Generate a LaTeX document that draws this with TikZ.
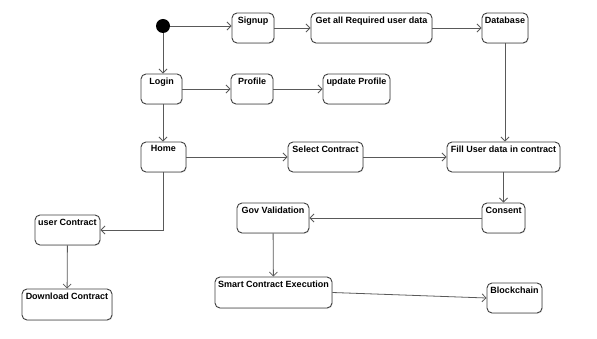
\documentclass[tikz,border=0pt]{standalone}
\usepackage{fontspec}
\setmainfont{Liberation Sans}
\usetikzlibrary{arrows.meta,shadows}
\begin{document}
\begin{tikzpicture}[x=1pt,y=-1pt,
  state/.style={draw=black!75, line width=0.9pt, rounded corners=5pt, fill=white, inner sep=0pt,
    drop shadow={shadow xshift=0.8pt, shadow yshift=-0.8pt, opacity=0.2}},
  lbl/.style={font=\bfseries\fontsize{9}{10}\selectfont, inner sep=4pt, anchor=north},
  flow/.style={draw=black!65, line width=0.8pt, -{Straight Barb[length=4pt,width=8pt]}}]
\useasboundingbox (0,0) rectangle (597,339);
% initial state
\node[circle, fill=black, minimum size=14pt, inner sep=0pt] (start) at (163,26) {};
% states
\node[state, minimum width=42pt, minimum height=30pt, label={[lbl]north:Signup}] (signup) at (253,28) {};
\node[state, minimum width=121pt, minimum height=30pt, label={[lbl]north:Get all Required user data}] (getall) at (371.5,28) {};
\node[state, minimum width=46pt, minimum height=30pt, label={[lbl]north:Database}] (database) at (505,28) {};
\node[state, minimum width=41pt, minimum height=30pt, label={[lbl]north:Login}] (login) at (161.5,89) {};
\node[state, minimum width=42pt, minimum height=30pt, label={[lbl]north:Profile}] (profile) at (252,89) {};
\node[state, minimum width=67pt, minimum height=30pt, label={[lbl]north:update Profile}] (update) at (356.5,89) {};
\node[state, minimum width=45pt, minimum height=30pt, label={[lbl]north:Home}] (home) at (163.5,157) {};
\node[state, minimum width=75pt, minimum height=30pt, label={[lbl]north:Select Contract}] (select) at (325.5,157) {};
\node[state, minimum width=113pt, minimum height=30pt, label={[lbl]north:Fill User data in contract}] (fill) at (503.5,157) {};
\node[state, minimum width=43pt, minimum height=30pt, label={[lbl]north:Consent}] (consent) at (503.5,218) {};
\node[state, minimum width=72pt, minimum height=30pt, label={[lbl]north:Gov Validation}] (gov) at (273,218) {};
\node[state, minimum width=65pt, minimum height=30pt, label={[lbl]north:user Contract}] (ucon) at (67.5,230) {};
\node[state, minimum width=90pt, minimum height=31pt, label={[lbl]north:Download Contract}] (download) at (67,304.5) {};
\node[state, minimum width=117pt, minimum height=31pt, label={[lbl]north:Smart Contract Execution}] (smart) at (273.5,292.5) {};
\node[state, minimum width=55pt, minimum height=30pt, label={[lbl]north:Blockchain}] (block) at (514.5,298) {};
% transitions
\draw[flow] (start) -- (start -| signup.west);
\draw[flow] (start) -- (start |- login.north);
\draw[flow] (signup) -- (getall);
\draw[flow] (getall) -- (database);
\draw[flow] (login) -- (profile);
\draw[flow] (profile) -- (update);
\draw[flow] (start |- login.south) -- (start |- home.north);
\draw[flow] (home) -- (select);
\draw[flow] (select) -- (fill);
\draw[flow] (database.south) -- (database.south |- fill.north);
\draw[flow] (fill) -- (consent);
\draw[flow] (consent) -- (gov);
\draw[flow] (start |- home.south) |- (ucon.east);
\draw[flow] (ucon) -- (download);
\draw[flow] (gov) -- (smart);
\draw[flow] (smart.east) -- (block.west);
\end{tikzpicture}
\end{document}
